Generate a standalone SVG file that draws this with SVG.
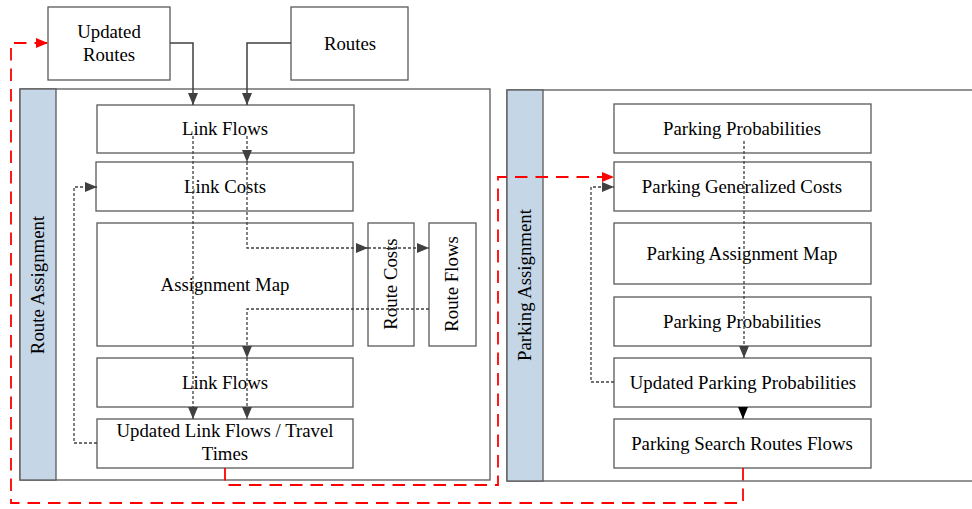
<svg xmlns="http://www.w3.org/2000/svg" width="972" height="509" viewBox="0 0 972 509">
<style>
.box{fill:#fff;stroke:#595959;stroke-width:1.3}
.panel{fill:#fff;stroke:#595959;stroke-width:1.3}
.strip{fill:#c5d6e7;stroke:#595959;stroke-width:1.3}
text{font-family:"Liberation Serif","Times New Roman",serif;font-size:18.8px;fill:#000;text-anchor:middle}
.solid{fill:none;stroke:#404040;stroke-width:1.5}
.dot{fill:none;stroke:#404040;stroke-width:1.3;stroke-dasharray:3 2}
.red{fill:none;stroke:#ff0000;stroke-width:1.8;stroke-dasharray:12.5 8}
</style>
<defs>
<marker id="ah" markerUnits="userSpaceOnUse" markerWidth="12" markerHeight="12" viewBox="0 0 12 12" refX="12" refY="6" orient="auto">
<path d="M0,1 L12,6 L0,11 Z" fill="#404040"/>
</marker>
<marker id="ahb" markerUnits="userSpaceOnUse" markerWidth="12" markerHeight="12" viewBox="0 0 12 12" refX="12" refY="6" orient="auto">
<path d="M0,1 L12,6 L0,11 Z" fill="#000"/>
</marker>
<marker id="ahr" markerUnits="userSpaceOnUse" markerWidth="12" markerHeight="12" viewBox="0 0 12 12" refX="12" refY="6" orient="auto">
<path d="M0,1 L12,6 L0,11 Z" fill="#ff0000"/>
</marker>
</defs>

<g id="route-assignment">
<rect class="panel" x="20" y="89" width="470" height="391"/>
<rect class="strip" x="20" y="89" width="36" height="391"/>
<text transform="translate(44,285) rotate(-90)">Route Assignment</text>
</g>
<g id="parking-assignment">
<rect class="panel" x="507" y="90" width="480" height="391"/>
<rect class="strip" x="507" y="90" width="36" height="391"/>
<text transform="translate(531,285) rotate(-90)">Parking Assignment</text>
</g>

<g id="updated-routes">
<rect class="box" x="48" y="7" width="122" height="73"/>
<text x="109" y="38">Updated</text>
<text x="109" y="61">Routes</text>
</g>
<g id="routes">
<rect class="box" x="291" y="7" width="117" height="73"/>
<text x="350" y="50">Routes</text>
</g>
<g id="link-flows-1">
<rect class="box" x="97" y="105" width="257" height="48"/>
<text x="225" y="135">Link Flows</text>
</g>
<g id="link-costs">
<rect class="box" x="96" y="162" width="257" height="49"/>
<text x="225" y="193">Link Costs</text>
</g>
<g id="assignment-map">
<rect class="box" x="97" y="223" width="256" height="123"/>
<text x="225" y="291">Assignment Map</text>
</g>
<g id="route-costs">
<rect class="box" x="368" y="223" width="46" height="123"/>
<text transform="translate(397,284) rotate(-90)">Route Costs</text>
</g>
<g id="route-flows">
<rect class="box" x="429" y="223" width="47" height="123"/>
<text transform="translate(458,284) rotate(-90)">Route Flows</text>
</g>
<g id="link-flows-2">
<rect class="box" x="97" y="358" width="256" height="49"/>
<text x="225" y="389">Link Flows</text>
</g>
<g id="updated-link-flows">
<rect class="box" x="97" y="419" width="256" height="49"/>
<text x="225" y="437">Updated Link Flows / Travel</text>
<text x="225" y="460">Times</text>
</g>

<g id="parking-probabilities-1">
<rect class="box" x="614" y="104" width="257" height="49"/>
<text x="742" y="135">Parking Probabilities</text>
</g>
<g id="parking-generalized-costs">
<rect class="box" x="614" y="162" width="257" height="49"/>
<text x="742" y="193">Parking Generalized Costs</text>
</g>
<g id="parking-assignment-map">
<rect class="box" x="614" y="223" width="257" height="61"/>
<text x="742" y="260">Parking Assignment Map</text>
</g>
<g id="parking-probabilities-2">
<rect class="box" x="614" y="297" width="257" height="49"/>
<text x="742" y="328">Parking Probabilities</text>
</g>
<g id="updated-parking-probabilities">
<rect class="box" x="614" y="358" width="257" height="49"/>
<text x="743" y="389">Updated Parking Probabilities</text>
</g>
<g id="parking-search-routes-flows">
<rect class="box" x="614" y="419" width="257" height="49"/>
<text x="742" y="450">Parking Search Routes Flows</text>
</g>

<g id="connectors">
<path class="solid" d="M170,43 H193 V105" marker-end="url(#ah)"/>
<path class="solid" d="M291,43 H247 V105" marker-end="url(#ah)"/>
<path class="dot" d="M193,136 V419" marker-end="url(#ah)"/>
<path class="dot" d="M247,136 V162" marker-end="url(#ah)"/>
<path class="dot" d="M247,162 V248 H368" marker-end="url(#ah)"/>
<path class="dot" d="M368,248 H429" marker-end="url(#ah)"/>
<path class="dot" d="M429,309 H247 V358" marker-end="url(#ah)"/>
<path class="dot" d="M247,358 V419" marker-end="url(#ah)"/>
<path class="dot" d="M97,443 H74 V187 H97" marker-end="url(#ah)"/>
<path class="dot" d="M744,141 V358" marker-end="url(#ah)"/>
<path class="solid" d="M743,407 V419" stroke="#000" marker-end="url(#ahb)"/>
<path class="dot" d="M614,382 H591 V187 H614" marker-end="url(#ah)"/>
<path class="red" d="M225,468 V485 H498 V177 H614" marker-end="url(#ahr)"/>
<path class="red" d="M743,468 V503 H11 V43 H48" marker-end="url(#ahr)"/>
</g>
</svg>
